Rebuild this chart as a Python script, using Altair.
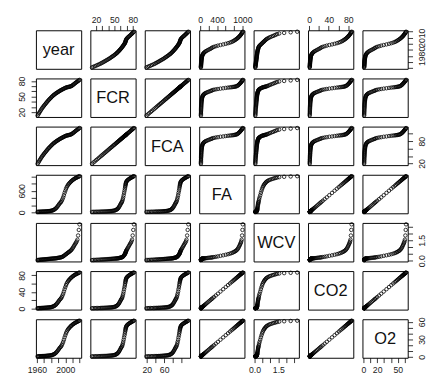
import json
import altair as alt
import pandas as pd

YEAR = list(range(1961, 2021))
FCR = [13.5, 15.8, 18.1, 20.4, 22.6, 24.8, 27.0, 28.8, 30.6, 32.4,
       34.1, 35.8, 37.5, 39.2, 40.9, 42.4, 43.9, 45.3, 46.7, 48.1,
       49.5, 50.8, 52.1, 53.2, 54.3, 55.3, 56.3, 57.2, 58.1, 59.0,
       59.9, 60.7, 61.5, 62.3, 63.1, 63.8, 64.5, 65.2, 65.9, 66.6,
       67.2, 67.6, 68.0, 68.3, 68.6, 68.9, 69.3, 69.8, 70.5, 71.4,
       72.5, 73.6, 74.7, 75.8, 76.9, 77.9, 78.9, 79.9, 80.9, 82.0]
FCA = [19.4, 22.7, 25.7, 29.2, 32.0, 35.3, 38.2, 40.9, 43.2, 46.0,
       48.1, 50.7, 52.9, 55.5, 57.7, 60.0, 61.9, 64.0, 65.8, 67.9,
       69.7, 71.7, 73.3, 75.1, 76.4, 78.0, 79.2, 80.7, 81.7, 83.2,
       84.3, 85.6, 86.5, 87.8, 88.7, 89.9, 90.7, 91.9, 92.7, 93.8,
       94.5, 95.2, 95.6, 96.2, 96.4, 97.1, 97.4, 98.3, 99.1, 100.6,
       101.9, 103.6, 105.0, 106.7, 108.1, 109.7, 110.9, 112.5, 113.7, 115.3]
FA = [15, 16, 17, 18, 19, 20, 21, 22, 23, 24,
      25, 26, 28, 30, 32, 34, 36, 38, 41, 45,
      50, 56, 64, 74, 86, 100, 118, 140, 165, 192,
      220, 248, 270, 292, 325, 370, 420, 480, 545, 605,
      660, 705, 742, 772, 798, 820, 842, 862, 880, 897,
      912, 926, 940, 952, 963, 973, 983, 993, 1002, 1010]
WCV = [0.05, 0.055, 0.06, 0.065, 0.07, 0.075, 0.08, 0.085, 0.09, 0.095,
       0.10, 0.105, 0.11, 0.115, 0.12, 0.125, 0.13, 0.135, 0.14, 0.145,
       0.15, 0.155, 0.16, 0.165, 0.17, 0.175, 0.18, 0.19, 0.20, 0.21,
       0.22, 0.23, 0.24, 0.25, 0.27, 0.29, 0.32, 0.36, 0.40, 0.44,
       0.48, 0.52, 0.56, 0.60, 0.64, 0.68, 0.72, 0.77, 0.83, 0.90,
       0.98, 1.07, 1.16, 1.25, 1.33, 1.42, 1.55, 1.86, 2.27, 2.68]
CO2 = [1.0, 1.1, 1.2, 1.3, 1.3, 1.4, 1.5, 1.6, 1.7, 1.8,
       1.9, 2.0, 2.1, 2.3, 2.5, 2.6, 2.8, 3.0, 3.2, 3.6,
       4.0, 4.5, 5.2, 6.1, 7.1, 8.3, 9.9, 11.8, 14.0, 16.3,
       18.7, 21.1, 23.0, 24.9, 27.8, 31.7, 36.0, 41.2, 46.8, 52.0,
       56.7, 60.6, 63.8, 66.4, 68.7, 70.6, 72.5, 74.2, 75.7, 77.2,
       78.5, 79.7, 80.9, 82.0, 82.9, 83.8, 84.6, 85.5, 86.3, 87.0]
O2 = [1.0, 1.06, 1.12, 1.18, 1.25, 1.31, 1.37, 1.43, 1.49, 1.55,
      1.61, 1.67, 1.8, 1.92, 2.04, 2.16, 2.29, 2.41, 2.59, 2.84,
      3.15, 3.51, 4.0, 4.62, 5.35, 6.21, 7.31, 8.66, 10.2, 11.85,
      13.57, 15.28, 16.63, 17.98, 20.0, 22.76, 25.83, 29.5, 33.5, 37.2,
      40.5, 43.3, 45.6, 47.4, 49.0, 50.3, 51.7, 52.9, 54.0, 55.1,
      56.0, 56.8, 57.7, 58.4, 59.1, 59.7, 60.3, 61.0, 61.5, 62.0]

VARS = ["year", "FCR", "FCA", "FA", "WCV", "CO2", "O2"]

TICKS = {
    "year": [1960, 1970, 1980, 1990, 2000, 2010, 2020],
    "FCR": [20, 30, 40, 50, 60, 70, 80],
    "FCA": [20, 40, 60, 80, 100],
    "FA": [0, 200, 400, 600, 800, 1000],
    "WCV": [0.0, 0.5, 1.0, 1.5, 2.0, 2.5],
    "CO2": [0, 20, 40, 60, 80],
    "O2": [0, 10, 20, 30, 40, 50, 60],
}
LABELS_X = {
    "year": [1960, 2000], "FCR": [20, 50, 80], "FCA": [20, 60],
    "FA": [0, 400, 1000], "WCV": [0.0, 1.5], "CO2": [0, 40, 80], "O2": [0, 20, 50],
}
LABELS_Y = {
    "year": [1980, 2010], "FCR": [20, 50, 80], "FCA": [20, 80],
    "FA": [0, 600], "WCV": [0.0, 1.5], "CO2": [0, 40, 80], "O2": [0, 30, 60],
}

df = pd.DataFrame({"year": YEAR, "FCR": FCR, "FCA": FCA, "FA": FA,
                   "WCV": WCV, "CO2": CO2, "O2": O2})

W, H = 47, 40


def dom(var):
    lo, hi = float(df[var].min()), float(df[var].max())
    r = hi - lo
    return [lo - 0.04 * r, hi + 0.04 * r]


def make_axis(var, orient):
    labels = LABELS_X[var] if orient in ("top", "bottom") else LABELS_Y[var]
    expr = "indexof(%s, datum.value) >= 0 ? datum.label : ''" % json.dumps(labels)
    kw = dict(orient=orient, values=TICKS[var], labelExpr=expr, domain=False,
              grid=False, ticks=True, tickSize=5, tickColor="black", tickWidth=0.8,
              labelFontSize=9, labelFont="Liberation Sans", labelColor="#222",
              title=None, labelOverlap=False, labelFlush=False,
              format=".1f" if var == "WCV" else "d")
    if orient in ("left", "right"):
        kw.update(labelAngle=270, labelAlign="center",
                  labelBaseline="bottom" if orient == "left" else "top",
                  labelPadding=5)
    else:
        kw.update(labelPadding=1 if orient == "top" else 3)
    return alt.Axis(**kw)


panels = []
n = len(VARS)
for i, rv in enumerate(VARS):
    for j, cv in enumerate(VARS):
        x_axis = None
        y_axis = None
        if i == 0 and j % 2 == 1:
            x_axis = make_axis(cv, "top")
        elif i == n - 1 and j % 2 == 0:
            x_axis = make_axis(cv, "bottom")
        if j == 0 and i % 2 == 1:
            y_axis = make_axis(rv, "left")
        elif j == n - 1 and i % 2 == 0:
            y_axis = make_axis(rv, "right")
        enc = dict(
            x=alt.X(f"{cv}:Q", scale=alt.Scale(domain=dom(cv), nice=False, zero=False), axis=x_axis),
            y=alt.Y(f"{rv}:Q", scale=alt.Scale(domain=dom(rv), nice=False, zero=False), axis=y_axis),
        )
        if i == j:
            pts = alt.Chart(df).mark_point(opacity=0).encode(**enc)
            txt = alt.Chart(pd.DataFrame({"name": [rv]})).mark_text(
                fontSize=17, font="Liberation Sans", color="#111"
            ).encode(x=alt.value(W / 2), y=alt.value(H / 2 + 1), text="name:N")
            p = alt.layer(pts, txt).properties(width=W, height=H)
        else:
            p = alt.Chart(df).mark_point(
                shape="circle", filled=False, color="black", opacity=1,
                size=13, strokeWidth=0.8
            ).encode(**enc).properties(width=W, height=H)
        panels.append(p)

chart = alt.concat(
    *panels, columns=7, spacing={"row": 10, "column": 9.5}, bounds="flush",
    padding={"left": 9, "top": 0, "right": 0, "bottom": 0},
    background="white",
).configure_view(stroke="black", strokeWidth=1)

chart.save("out.html", embed_options={"renderer": "svg", "actions": False})
